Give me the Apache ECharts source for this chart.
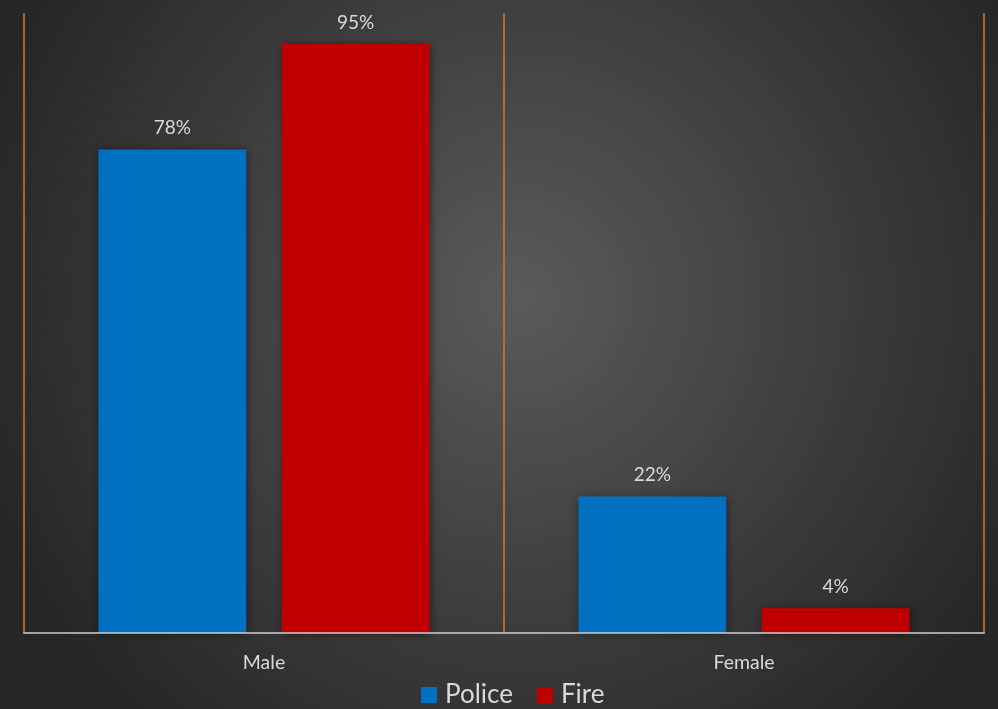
<!DOCTYPE html>
<html>
<head>
<meta charset="utf-8">
<script src="https://cdn.jsdelivr.net/npm/echarts@6/dist/echarts.min.js"></script>
<style>
html,body{margin:0;padding:0;}
#chart{width:998px;height:709px;}
</style>
</head>
<body>
<div id="chart"></div>
<script>
const categories = ['Male', 'Female'];
const policeValues = [78, 22];
const fireValues = [95, 4];
const seriesNames = ['Police', 'Fire'];

const chart = echarts.init(document.getElementById('chart'));
const font = 'Lato, "Open Sans", sans-serif';
const labelStyle = {
  show: true, position: 'top', distance: 12,
  formatter: p => p.value + '%',
  color: '#D9D9D9', fontSize: 19, fontFamily: font
};
chart.setOption({
  backgroundColor: {
    type: 'radial', x: 0.52, y: 0.42, r: 0.8,
    colorStops: [{offset: 0, color: '#5a5a5a'}, {offset: 1, color: '#262626'}]
  },
  animation: false,
  grid: {left: 24, right: 14, top: 13, bottom: 76},
  legend: {
    bottom: -4, left: 416,
    itemWidth: 16, itemHeight: 16, itemGap: 24,
    icon: 'rect',
    textStyle: {color: '#D9D9D9', fontSize: 26, fontFamily: font, padding: [0, 0, 0, 3]},
    data: seriesNames
  },
  xAxis: {
    type: 'category', data: categories,
    axisLine: {show: true, lineStyle: {color: 'rgba(217,217,217,0.7)', width: 2}},
    axisTick: {show: false},
    axisLabel: {color: '#D9D9D9', fontSize: 19.5, fontFamily: font, margin: 20},
    splitLine: {show: true, lineStyle: {color: '#DE7432', width: 1.5}},
    z: 10
  },
  yAxis: {
    type: 'value', min: 0, max: 100,
    show: false, splitLine: {show: false}
  },
  series: [
    {
      name: seriesNames[0], type: 'bar', data: policeValues,
      barWidth: '30.8%', barGap: '24%',
      itemStyle: {color: '#0070C0', shadowBlur: 8, shadowColor: 'rgba(0,0,0,0.45)', shadowOffsetX: 1, shadowOffsetY: 1},
      label: labelStyle
    },
    {
      name: seriesNames[1], type: 'bar', data: fireValues,
      barWidth: '30.8%', barGap: '24%',
      itemStyle: {color: '#C00000', shadowBlur: 8, shadowColor: 'rgba(0,0,0,0.45)', shadowOffsetX: 1, shadowOffsetY: 1},
      label: labelStyle
    }
  ]
});
</script>
</body>
</html>
